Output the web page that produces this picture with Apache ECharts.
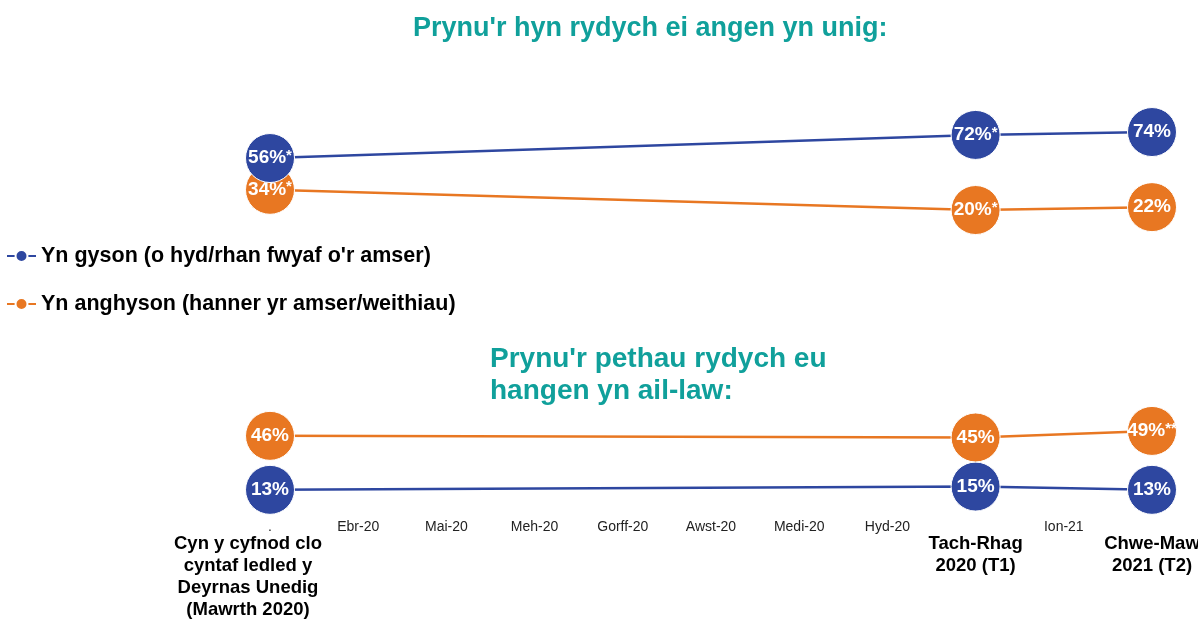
<!DOCTYPE html>
<html><head><meta charset="utf-8">
<script src="https://cdn.jsdelivr.net/npm/echarts@6/dist/echarts.min.js"></script>
<style>html,body{margin:0;padding:0;background:#fff}#c{width:1198px;height:621px}</style>
</head><body><div id="c"></div>
<script>
const categories = ['Mawrth 2020','Ebr-20','Mai-20','Meh-20','Gorff-20','Awst-20','Medi-20','Hyd-20','Tach-Rhag 2020 (T1)','Ion-21','Chwe-Maw 2021 (T2)'];
const tickLabels = ['.','Ebr-20','Mai-20','Meh-20','Gorff-20','Awst-20','Medi-20','Hyd-20','','Ion-21',''];
const waveLabels = ['Cyn y cyfnod clo\ncyntaf ledled y\nDeyrnas Unedig\n(Mawrth 2020)','','','','','','','','Tach-Rhag\n2020 (T1)','','Chwe-Maw\n2021 (T2)'];
const seriesNames = ["Yn gyson (o hyd/rhan fwyaf o'r amser)", "Yn anghyson (hanner yr amser/weithiau)"];
const titleTop = "Prynu'r hyn rydych ei angen yn unig:";
const titleBottom = "Prynu'r pethau rydych eu\nhangen yn ail-law:";

// Top panel: only buying what you need
const onlyNeedConsistent      = [56,null,null,null,null,null,null,null,72,null,74];
const onlyNeedConsistentNotes = ['*','','','','','','','','*','',''];
const onlyNeedInconsistent      = [34,null,null,null,null,null,null,null,20,null,22];
const onlyNeedInconsistentNotes = ['*','','','','','','','','*','',''];
// Bottom panel: buying second-hand
const secondHandConsistent      = [13,null,null,null,null,null,null,null,15,null,13];
const secondHandConsistentNotes = ['','','','','','','','','','',''];
const secondHandInconsistent      = [46,null,null,null,null,null,null,null,45,null,49];
const secondHandInconsistentNotes = ['','','','','','','','','','','**'];

const BLUE = '#2E47A0', ORANGE = '#E87722', TEAL = '#10A09B';
const FONT = '"Liberation Sans", Arial, sans-serif';

function mkSeries(name, data, notes, color, gridIdx, z) {
  return {
    name: name, type: 'line', data: data, connectNulls: true,
    xAxisIndex: gridIdx, yAxisIndex: gridIdx, z: z,
    symbol: 'circle', symbolSize: 49,
    itemStyle: { color: color, borderColor: '#fff', borderWidth: 1 },
    lineStyle: { color: color, width: 2.5 },
    emphasis: { disabled: true },
    label: {
      show: true, position: 'inside',
      formatter: p => p.value == null ? '' : '{v|' + p.value + '%}' + (notes[p.dataIndex] ? '{s|' + notes[p.dataIndex] + '}' : ''),
      rich: {
        v: { color: '#fff', fontSize: 19, fontWeight: 'bold', fontFamily: FONT },
        s: { color: '#fff', fontSize: 15, fontWeight: 'bold', fontFamily: FONT, padding: [0, 0, 5, 0] }
      }
    }
  };
}

const chart = echarts.init(document.getElementById('c'), null, { renderer: 'canvas' });
chart.setOption({
  animation: false,
  textStyle: { fontFamily: FONT },
  title: [
    { text: titleTop, left: 413, top: 15, padding: 0, textStyle: { color: TEAL, fontSize: 27, fontWeight: 'bold', lineHeight: 28, fontFamily: FONT } },
    { text: titleBottom, left: 490, top: 343, padding: 0, textStyle: { color: TEAL, fontSize: 28, fontWeight: 'bold', lineHeight: 32, fontFamily: FONT } }
  ],
  legend: {
    data: seriesNames, orient: 'vertical', left: 6, top: 245, padding: 0, itemGap: 26,
    itemWidth: 29, itemHeight: 15,
    textStyle: { color: '#000', fontSize: 21.5, fontWeight: 'bold', fontFamily: FONT },
    selectedMode: false
  },
  grid: [
    { left: 270, right: 46, top: 94.5, height: 144.4, outerBoundsMode: 'none', containLabel: false },
    { left: 270, right: 46, top: 347.5, height: 163.6, outerBoundsMode: 'none', containLabel: false }
  ],
  xAxis: [
    { type: 'category', gridIndex: 0, data: categories, boundaryGap: false, show: false },
    { type: 'category', gridIndex: 1, data: categories, boundaryGap: false,
      axisLine: { show: false }, axisTick: { show: false },
      axisLabel: {
        interval: 0, margin: 10, color: '#222', fontSize: 14, lineHeight: 12, fontFamily: FONT,
        formatter: (val, idx) => {
          let s = tickLabels[idx];
          if (waveLabels[idx]) {
            const st = idx === 0 ? 'b0' : 'b';
            s += '\n' + waveLabels[idx].split('\n').map(l => '{' + st + '|' + l + '}').join('\n');
          }
          return s;
        },
        rich: {
          b: { color: '#000', fontSize: 18.5, fontWeight: 'bold', lineHeight: 22, fontFamily: FONT },
          b0: { color: '#000', fontSize: 18.5, fontWeight: 'bold', lineHeight: 22, fontFamily: FONT, padding: [0, 44, 0, 0] }
        }
      }
    }
  ],
  yAxis: [
    { type: 'value', gridIndex: 0, min: 0, max: 100, show: false },
    { type: 'value', gridIndex: 1, min: 0, max: 100, show: false }
  ],
  series: [
    mkSeries(seriesNames[1], onlyNeedInconsistent, onlyNeedInconsistentNotes, ORANGE, 0, 2),
    mkSeries(seriesNames[0], onlyNeedConsistent, onlyNeedConsistentNotes, BLUE, 0, 3),
    mkSeries(seriesNames[0], secondHandConsistent, secondHandConsistentNotes, BLUE, 1, 2),
    mkSeries(seriesNames[1], secondHandInconsistent, secondHandInconsistentNotes, ORANGE, 1, 3)
  ]
});
</script></body></html>
